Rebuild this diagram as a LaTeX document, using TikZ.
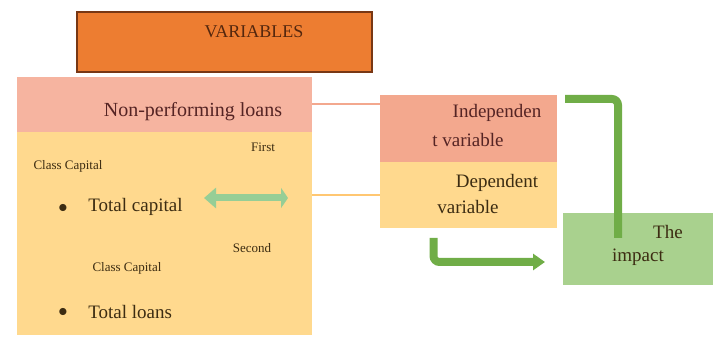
\documentclass[tikz,border=0pt]{standalone}
\usepackage{fontspec}
\setmainfont{Liberation Serif}
\usetikzlibrary{positioning, arrows.meta}

\begin{document}
\begin{tikzpicture}[x=0.5pt, y=-0.5pt, node distance=0pt,
box/.style={inner sep=0pt, outer sep=0pt},
txt/.style={inner sep=0pt, text=textbrown, font=\fontsize{9.5}{11}\selectfont},
small/.style={inner sep=0pt, text=textbrown, font=\fontsize{6.5}{8}\selectfont},
thinline/.style={line width=1pt},
greenline/.style={line width=4pt, draw=arrowgreen, rounded corners=3pt}]

% Define colors
\definecolor{titleorange}{RGB}{237, 125, 49}
\definecolor{titleborder}{RGB}{120, 55, 20}
\definecolor{softpink}{RGB}{246, 180, 160}
\definecolor{softsalmon}{RGB}{243, 168, 142}
\definecolor{softyellow}{RGB}{255, 217, 142}
\definecolor{softgreen}{RGB}{169, 209, 142}
\definecolor{arrowgreen}{RGB}{112, 173, 71}
\definecolor{palegreen}{RGB}{150, 206, 150}
\definecolor{textbrown}{RGB}{60, 44, 18}
\definecolor{textred}{RGB}{85, 36, 36}

\useasboundingbox (0,0) rectangle (716,346);

% Nodes
\node[box, fill=titleorange, draw=titleborder, line width=1.2pt, minimum width=147.5pt, minimum height=30pt] (title) at (224.5,42) {};
\node[txt, text=titleborder!70!black, font=\fontsize{9}{11}\selectfont] (titletxt) at (254,32) {VARIABLES};

\node[box, fill=softyellow, minimum width=147.5pt, minimum height=129pt] (group) at (164.5,206) {};
\node[box, fill=softpink, minimum width=147.5pt, minimum height=27.5pt, anchor=north] (npl) at (group.north) {};
\node[txt, text=textred, font=\fontsize{10}{12}\selectfont] (npltxt) at (193,112) {Non-performing loans};

\node[small] (first) at (263,147) {First};
\node[small] (class1) at (68,166) {Class Capital};
\node[txt] (bullet1) at (63,208) {$\bullet$};
\node[txt, anchor=west] (totcap) at (88,207) {Total capital};
\node[small] (second) at (252,248) {Second};
\node[small] (class2) at (127,268) {Class Capital};
\node[txt] (bullet2) at (63,312) {$\bullet$};
\node[txt, anchor=west] (totloans) at (88,312) {Total loans};

\node[box, fill=softsalmon, minimum width=88.5pt, minimum height=33.5pt] (indep) at (468.5,128.5) {};
\node[box, fill=softyellow, minimum width=88.5pt, minimum height=33pt, below=of indep] (dep) {};
\node[txt, text=textred] (indeptxt1) at (497,113) {Independen};
\node[txt, text=textred] (indeptxt2) at (468,140) {t variable};
\node[txt] (deptxt1) at (497,183) {Dependent};
\node[txt] (deptxt2) at (468,207) {variable};

\node[box, fill=softgreen, minimum width=75pt, minimum height=36pt] (impact) at (638,249) {};
\node[txt] (impacttxt1) at (668,232) {The};
\node[txt] (impacttxt2) at (638,257) {impact};

\coordinate (dl) at (204,198);
\coordinate (dr) at (288,198);

% Arrows
\draw[thinline, draw=softsalmon] (npl.east) -- (npl.east -| indep.west);
\draw[thinline, draw=softyellow!80!orange] (dep.west -| group.east) -- (dep.west);
\draw[line width=3.5pt, draw=palegreen, {Triangle[width=10pt, length=6pt]}-{Triangle[width=10pt, length=3.5pt]}] (dl) -- (dr);
\draw[greenline] ([shift={(8,4)}]indep.north east) -| ([shift={(-20,25)}]impact.north);
\draw[greenline, -{Triangle[width=8pt, length=6pt]}] ([shift={(-35,10)}]dep.south) |- ([shift={(-18,13)}]impact.west);

\end{tikzpicture}
\end{document}
